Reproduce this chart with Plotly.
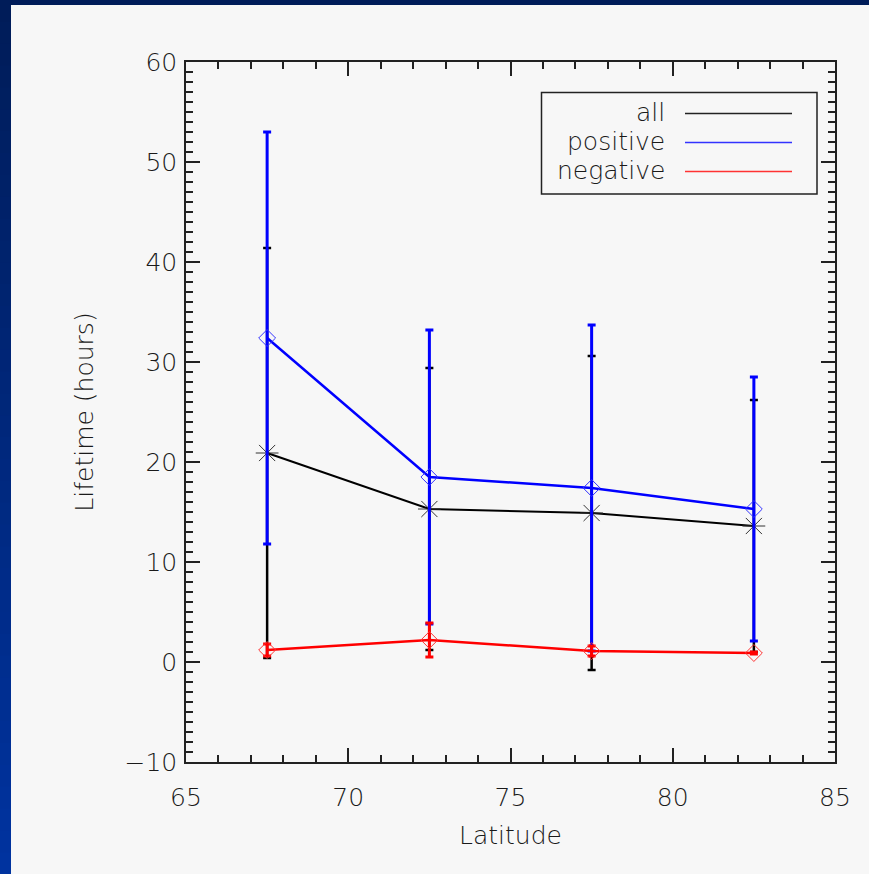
import plotly.graph_objects as go

# ---- data ----
latitude = [67.5, 72.5, 77.5, 82.5]

all_life = [20.9, 15.3, 14.9, 13.6]
all_err = [20.5, 14.1, 15.7, 12.6]

pos_life = [32.4, 18.5, 17.4, 15.3]
pos_err = [20.6, 14.7, 16.3, 13.2]

neg_life = [1.2, 2.2, 1.1, 0.9]
neg_err = [0.6, 1.7, 0.5, 0.1]

series_names = ["all", "positive", "negative"]
series_colors = ["#000000", "#0000ff", "#ff0000"]
legend_colors = ["#222222", "#3333ff", "#ff3333"]

x_ticks = [65, 70, 75, 80, 85]
y_ticks = [-10, 0, 10, 20, 30, 40, 50, 60]

# ---- layout geometry (pixels) ----
W, H = 869, 874
L, R, T, B = 186, 34, 62, 112
PW, PH = W - L - R, H - T - B


def px_x(p):
    return (p - L) / PW


def px_y(p):
    return (H - B - p) / PH


FONT = "DejaVu Sans"
FS = 25
TXT = "#1a1a1a"


def tfont(size=FS):
    return dict(family=FONT, size=size, color=TXT, weight=200)


fig = go.Figure()

# all (black)
fig.add_trace(go.Scatter(
    x=latitude, y=all_life, mode="lines+markers", name=series_names[0],
    line=dict(color=series_colors[0], width=2),
    marker=dict(symbol="asterisk-open", size=19, color="#333333",
                line=dict(color="#333333", width=1)),
    error_y=dict(type="data", array=all_err, visible=True,
                 color=series_colors[0], thickness=2.5, width=4),
    showlegend=False,
))
# positive (blue)
fig.add_trace(go.Scatter(
    x=latitude, y=pos_life, mode="lines+markers", name=series_names[1],
    line=dict(color=series_colors[1], width=2.5),
    marker=dict(symbol="diamond-open", size=13, color="#3333ff",
                line=dict(color="#3333ff", width=1)),
    error_y=dict(type="data", array=pos_err, visible=True,
                 color=series_colors[1], thickness=3, width=4),
    showlegend=False,
))
# negative (red)
fig.add_trace(go.Scatter(
    x=latitude, y=neg_life, mode="lines+markers", name=series_names[2],
    line=dict(color=series_colors[2], width=2.5),
    marker=dict(symbol="diamond-open", size=13, color="#ff3333",
                line=dict(color="#ff3333", width=1)),
    error_y=dict(type="data", array=neg_err, visible=True,
                 color=series_colors[2], thickness=3, width=4),
    showlegend=False,
))

shapes = []
# blue gradient frame (vertical gradient)
top_c = (0x00, 0x1c, 0x58)
bot_c = (0x00, 0x33, 0xa0)
N = 40
for i in range(N):
    f = (i + 0.5) / N
    c = tuple(round(top_c[k] + (bot_c[k] - top_c[k]) * f) for k in range(3))
    y0p = H * i / N
    y1p = H * (i + 1) / N + 1
    shapes.append(dict(type="rect", xref="paper", yref="paper", layer="below",
                       x0=px_x(0), x1=px_x(W), y0=px_y(y1p), y1=px_y(y0p),
                       fillcolor="rgb(%d,%d,%d)" % c, line=dict(width=0)))
# light panel
shapes.append(dict(type="rect", xref="paper", yref="paper", layer="below",
                   x0=px_x(11), x1=px_x(W + 2), y0=px_y(H + 2), y1=px_y(5),
                   fillcolor="#f7f7f7", line=dict(width=0)))

# manual legend (text right-aligned, line sample to the right)
leg_box = (541.5, 92.5, 817, 194)
shapes.append(dict(type="rect", xref="paper", yref="paper", layer="above",
                   x0=px_x(leg_box[0]), x1=px_x(leg_box[2]),
                   y0=px_y(leg_box[3]), y1=px_y(leg_box[1]),
                   line=dict(color="#222222", width=1.5), fillcolor="rgba(0,0,0,0)"))
row_y = [113.5, 142.5, 171.5]
annotations = []
for name, col, ry in zip(series_names, legend_colors, row_y):
    shapes.append(dict(type="line", xref="paper", yref="paper", layer="above",
                       x0=px_x(685), x1=px_x(792), y0=px_y(ry), y1=px_y(ry),
                       line=dict(color=col, width=1.5)))
    annotations.append(dict(xref="paper", yref="paper", x=px_x(667), y=px_y(ry - 1),
                            text=name, showarrow=False, xanchor="right", yanchor="middle",
                            font=tfont()))

axis_common = dict(
    showgrid=False, zeroline=False, showline=True, linecolor="#222222", linewidth=1.5,
    mirror="allticks", ticks="inside", ticklen=14, tickwidth=1.5, tickcolor="#222222",
    tickfont=tfont(),
)

fig.update_layout(
    width=W, height=H,
    margin=dict(l=L, r=R, t=T, b=B, pad=0),
    paper_bgcolor="#0030a0",
    plot_bgcolor="#f7f7f7",
    shapes=shapes,
    annotations=annotations,
    xaxis=dict(range=[65, 85], tickvals=x_ticks, ticktext=[str(v) for v in x_ticks],
               minor=dict(ticks="inside", ticklen=7, tickwidth=1.5, tickcolor="#222222", dtick=1),
               ticklabelstandoff=12,
               title=dict(text="Latitude", font=tfont(), standoff=16),
               **axis_common),
    yaxis=dict(range=[-10, 60], tickvals=y_ticks,
               ticktext=["\u221210"] + [str(v) for v in y_ticks[1:]],
               minor=dict(ticks="inside", ticklen=7, tickwidth=1.5, tickcolor="#222222", dtick=1),
               ticklabelstandoff=2,
               title=dict(text="Lifetime (hours)", font=tfont(), standoff=24),
               **axis_common),
)

fig.write_html("out.html", config={"displayModeBar": False},
               post_script="document.body.style.margin='0';")
